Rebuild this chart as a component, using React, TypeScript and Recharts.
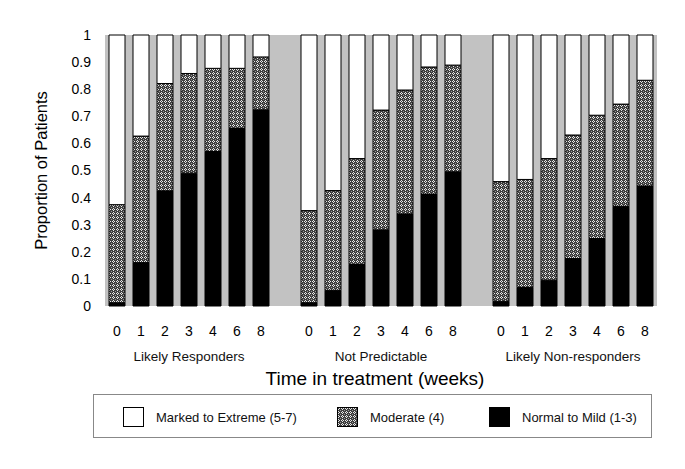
import React from 'react';
import { BarChart, Bar, XAxis, YAxis, CartesianGrid, Legend } from 'recharts';

const weeks = ['0', '1', '2', '3', '4', '6', '8'];
const groups = ['Likely Responders', 'Not Predictable', 'Likely Non-responders'];

// proportions per group, 7 weeks each
const normalMild = [
  [0.012, 0.16, 0.425, 0.49, 0.57, 0.655, 0.724],
  [0.012, 0.058, 0.153, 0.281, 0.34, 0.413, 0.495],
  [0.017, 0.069, 0.095, 0.175, 0.249, 0.368, 0.443],
];
const moderate = [
  [0.362, 0.467, 0.396, 0.368, 0.307, 0.222, 0.195],
  [0.34, 0.368, 0.391, 0.442, 0.457, 0.469, 0.394],
  [0.442, 0.398, 0.449, 0.456, 0.455, 0.377, 0.39],
];
const markedExtreme = [
  [0.626, 0.373, 0.179, 0.142, 0.123, 0.123, 0.081],
  [0.648, 0.574, 0.456, 0.277, 0.203, 0.118, 0.111],
  [0.541, 0.533, 0.456, 0.369, 0.296, 0.255, 0.167],
];
const yTicks = [0, 0.1, 0.2, 0.3, 0.4, 0.5, 0.6, 0.7, 0.8, 0.9, 1];

const FONT = '"Liberation Sans", Arial, Helvetica, sans-serif';

const rows: any[] = [];
groups.forEach((g, gi) => {
  weeks.forEach((w, wi) => {
    rows.push({
      week: w,
      group: wi === 3 ? g : '',
      normal: normalMild[gi][wi],
      moderate: moderate[gi][wi],
      marked: markedExtreme[gi][wi],
    });
  });
  // empty slot between groups
  if (gi < groups.length - 1) rows.push({ week: '', group: '' });
});

const PatternDef = ({ id }: { id: string }) => (
  <pattern id={id} width="4" height="4" patternUnits="userSpaceOnUse">
    <rect width="4" height="4" fill="#3e3e3e" />
    <rect x="1" y="0" width="1" height="1" fill="#e8e8e8" />
    <rect x="0" y="1" width="1" height="1" fill="#e8e8e8" />
    <rect x="2" y="1" width="1" height="1" fill="#e8e8e8" />
    <rect x="1" y="2" width="1" height="1" fill="#e8e8e8" />
    <rect x="3" y="3" width="1" height="1" fill="#9a9a9a" />
  </pattern>
);

const legendItems = [
  { label: 'Marked to Extreme (5-7)', fill: '#fff', left: 29 },
  { label: 'Moderate (4)', fill: 'url(#modPatLegend)', left: 243 },
  { label: 'Normal to Mild (1-3)', fill: '#000', left: 395 },
];

const LegendBox = () => (
  <div
    style={{
      position: 'relative',
      width: 559,
      height: 44,
      border: '1px solid #888',
      boxSizing: 'border-box',
      background: '#fff',
      fontFamily: FONT,
      fontSize: 13,
      color: '#111',
    }}
  >
    {legendItems.map((item) => (
      <div
        key={item.label}
        style={{ position: 'absolute', left: item.left, top: 12, display: 'flex', alignItems: 'center' }}
      >
        <svg width={21} height={20} style={{ display: 'block' }}>
          <defs>
            <PatternDef id="modPatLegend" />
          </defs>
          <rect x={0.5} y={0.5} width={20} height={19} fill={item.fill} stroke="#000" />
        </svg>
        <span style={{ marginLeft: 12, whiteSpace: 'nowrap' }}>{item.label}</span>
      </div>
    ))}
  </div>
);

export default function App() {
  return (
    <div style={{ position: 'absolute', left: 0, top: 0, width: 685, height: 469, background: '#fff' }}>
      <BarChart
        width={685}
        height={469}
        data={rows}
        margin={{ top: 35, right: 28, bottom: 83, left: 30 }}
        barSize={16}
      >
        <defs>
          <PatternDef id="modPat" />
        </defs>
        <CartesianGrid horizontal={false} vertical={false} fill="#c2c2c2" stroke="none" />
        <XAxis
          dataKey="week"
          interval={0}
          axisLine={false}
          tickLine={false}
          height={30}
          tickMargin={14}
          tick={{ fontSize: 14, fill: '#000', fontFamily: FONT }}
        />
        <XAxis
          xAxisId="grp"
          dataKey="group"
          interval={0}
          axisLine={false}
          tickLine={false}
          height={50}
          tickMargin={9}
          tick={{ fontSize: 13.5, fill: '#111', fontFamily: FONT }}
          label={{
            value: 'Time in treatment (weeks)',
            position: 'insideBottom',
            offset: 1,
            dx: -6,
            style: { fontSize: 19, fill: '#000', fontFamily: FONT },
          }}
        />
        <YAxis
          type="number"
          domain={[0, 1]}
          ticks={yTicks}
          axisLine={false}
          tickLine={false}
          tickSize={6}
          tickMargin={8}
          width={75}
          tick={{ fontSize: 14, fill: '#000', fontFamily: FONT }}
          label={{
            value: 'Proportion of Patients',
            angle: -90,
            position: 'insideLeft',
            offset: 11,
            style: { fontSize: 16.5, fill: '#000', fontFamily: FONT, textAnchor: 'middle' },
          }}
        />
        <Legend
          layout="vertical"
          align="center"
          verticalAlign="middle"
          content={() => <LegendBox />}
          wrapperStyle={{ position: 'absolute', left: 93, top: 394, width: 559, height: 44 }}
        />
        <Bar dataKey="normal" stackId="a" fill="#000" stroke="#000" strokeWidth={1} isAnimationActive={false} />
        <Bar dataKey="moderate" stackId="a" fill="url(#modPat)" stroke="#000" strokeWidth={1} isAnimationActive={false} />
        <Bar dataKey="marked" stackId="a" fill="#fff" stroke="#000" strokeWidth={1} isAnimationActive={false} />
      </BarChart>
    </div>
  );
}
